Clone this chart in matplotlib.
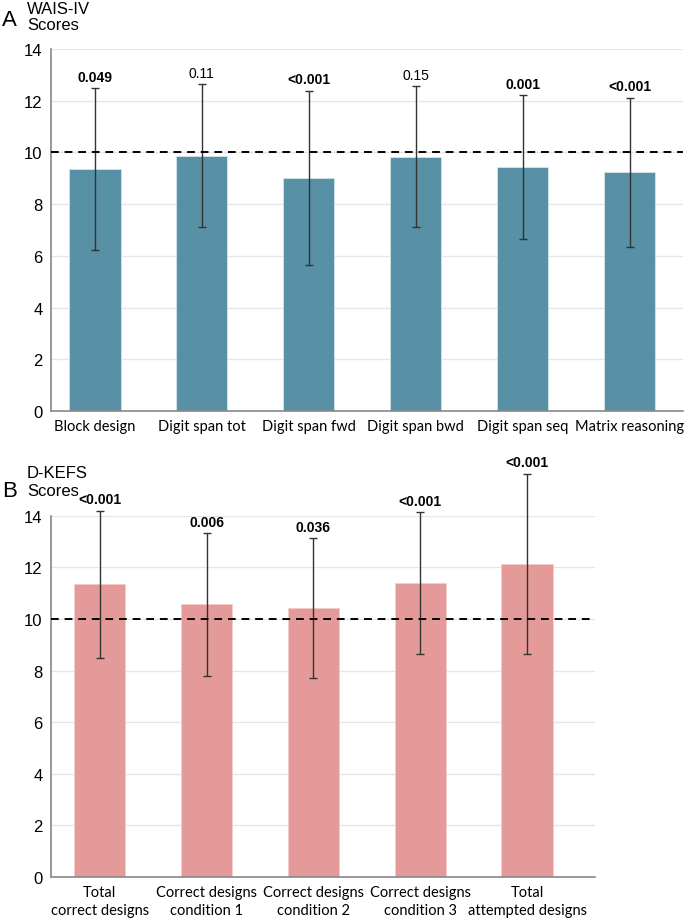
import matplotlib
matplotlib.use("Agg")
import matplotlib.pyplot as plt

# Panel A data (WAIS-IV)
wais_labels = ["Block design", "Digit span tot", "Digit span fwd", "Digit span bwd",
               "Digit span seq", "Matrix reasoning"]
wais_means = [9.35, 9.88, 9.02, 9.84, 9.43, 9.23]
wais_err = [3.13, 2.77, 3.37, 2.74, 2.79, 2.89]
wais_p = ["0.049", "0.11", "<0.001", "0.15", "0.001", "<0.001"]
wais_bold = [True, False, True, False, True, True]

# Panel B data (D-KEFS)
dkefs_labels = ["Total\ncorrect designs", "Correct designs\ncondition 1",
                "Correct designs\ncondition 2", "Correct designs\ncondition 3",
                "Total\nattempted designs"]
dkefs_means = [11.35, 10.57, 10.43, 11.39, 12.14]
dkefs_err = [2.85, 2.77, 2.71, 2.76, 3.49]
dkefs_p = ["<0.001", "0.006", "0.036", "<0.001", "<0.001"]
dkefs_bold = [True, True, True, True, True]

yticks = [0, 2, 4, 6, 8, 10, 12, 14]
ref_line = 10

W, H = 685, 920
fig = plt.figure(figsize=(W / 100, H / 100), dpi=100)

def fx(px):
    return px / W

def fy(py):
    return 1 - py / H

def panel(ax, labels, means, err, pvals, bold, color, edge, xlim):
    x = list(range(len(labels)))
    ax.bar(x, means, width=0.48, color=color, edgecolor=edge, linewidth=0.6, zorder=2)
    ax.errorbar(x, means, yerr=err, fmt="none", ecolor="#333333", elinewidth=1.0,
                capsize=3, capthick=1.0, zorder=3, clip_on=False)
    ax.axhline(ref_line, color="black", linestyle=(0, (4, 3)), linewidth=1.4, zorder=4)
    ax.set_ylim(0, 14)
    ax.set_xlim(*xlim)
    ax.set_yticks(yticks)
    ax.set_yticklabels([str(t) for t in yticks], fontsize=12, family="Liberation Sans")
    ax.yaxis.grid(True, color="#e6e6e6", linewidth=1.0, zorder=0)
    ax.set_axisbelow(True)
    ax.tick_params(axis="y", length=0, pad=6)
    ax.tick_params(axis="x", length=0, pad=6)
    ax.set_xticks(x)
    ax.set_xticklabels(labels, fontsize=10.5, family="Lato", linespacing=1.3)
    for s in ["top", "right"]:
        ax.spines[s].set_visible(False)
    for s in ["left", "bottom"]:
        ax.spines[s].set_color("#888888")
        ax.spines[s].set_linewidth(1.2)
    for xi, m, e, p, b in zip(x, means, err, pvals, bold):
        ax.annotate(p, (xi, m + e), xytext=(0, 3), textcoords="offset points",
                    ha="center", va="bottom", fontsize=10,
                    fontweight="bold" if b else "normal", family="Liberation Sans",
                    annotation_clip=False)

# Panel A
axA = fig.add_axes([fx(51), fy(412), fx(683 - 51), fy(50) - fy(412)])
panel(axA, wais_labels, wais_means, wais_err, wais_p, wais_bold,
      "#5890a5", "#d5e4ea", (-0.41, 5.5))

# Panel B
axB = fig.add_axes([fx(51), fy(878), fx(595 - 51), fy(516.7) - fy(878)])
panel(axB, dkefs_labels, dkefs_means, dkefs_err, dkefs_p, dkefs_bold,
      "#e59a9a", "#f3cccc", (-0.455, 4.635))

# Panel letters and axis titles
fig.text(fx(2), fy(20), "A", fontsize=16, family="Liberation Sans", va="center", ha="left")
fig.text(fx(27), fy(9), "WAIS-IV", fontsize=12, family="Liberation Sans", va="center", ha="left")
fig.text(fx(27), fy(26), "Scores", fontsize=12, family="Liberation Sans", va="center", ha="left")
fig.text(fx(2), fy(492), "B", fontsize=16, family="Liberation Sans", va="center", ha="left")
fig.text(fx(27), fy(474), "D-KEFS", fontsize=12, family="Liberation Sans", va="center", ha="left")
fig.text(fx(27), fy(492), "Scores", fontsize=12, family="Liberation Sans", va="center", ha="left")

fig.savefig("out.png", dpi=100)
